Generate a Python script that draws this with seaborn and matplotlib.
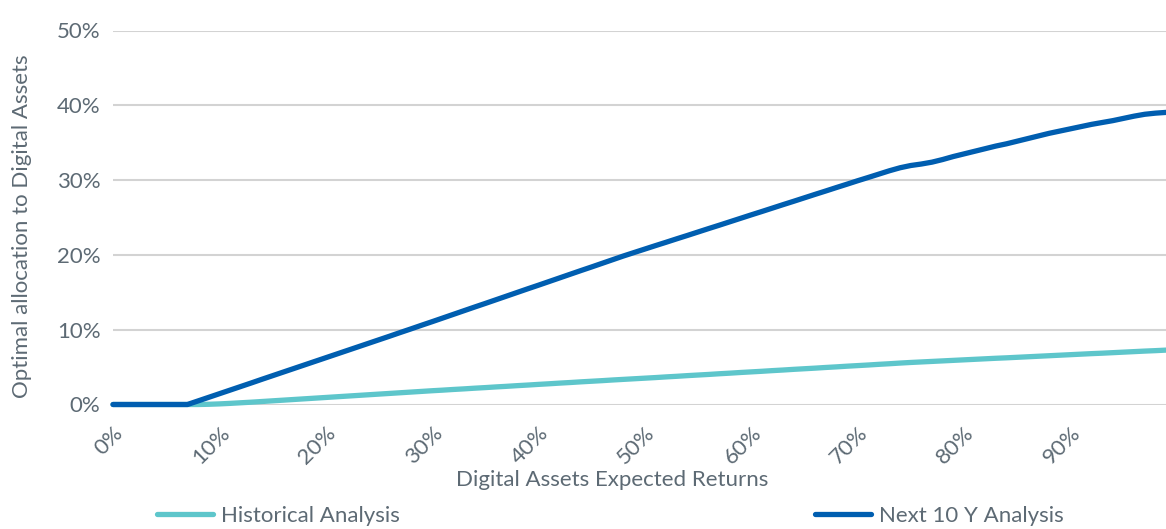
import matplotlib
matplotlib.use("Agg")
import matplotlib.pyplot as plt
from matplotlib.ticker import PercentFormatter, MultipleLocator
from matplotlib.lines import Line2D
import seaborn as sns
import pandas as pd

# Digital assets expected return (%), one point per percent
expected_returns = list(range(0, 100))

# Optimal allocation (%) from the historical analysis
historical = [
    0, 0, 0, 0, 0, 0, 0, 0, 0, 0.03,
    0.08, 0.15, 0.23, 0.31, 0.40, 0.49, 0.58, 0.67, 0.76, 0.85,
    0.94, 1.03, 1.12, 1.21, 1.30, 1.39, 1.48, 1.57, 1.66, 1.75,
    1.84, 1.92, 2.01, 2.09, 2.18, 2.26, 2.35, 2.43, 2.52, 2.60,
    2.69, 2.77, 2.86, 2.94, 3.03, 3.11, 3.19, 3.28, 3.36, 3.44,
    3.52, 3.60, 3.69, 3.77, 3.86, 3.94, 4.02, 4.11, 4.19, 4.28,
    4.36, 4.44, 4.53, 4.61, 4.70, 4.78, 4.86, 4.95, 5.03, 5.12,
    5.20, 5.28, 5.37, 5.45, 5.54, 5.62, 5.69, 5.76, 5.83, 5.90,
    5.97, 6.04, 6.11, 6.18, 6.24, 6.31, 6.38, 6.45, 6.52, 6.59,
    6.66, 6.73, 6.80, 6.86, 6.93, 7.00, 7.07, 7.14, 7.20, 7.27,
]

# Optimal allocation (%) from the next-10-year analysis
next_10y = [
    0, 0, 0, 0, 0, 0, 0, 0, 0.48, 0.96,
    1.44, 1.92, 2.40, 2.88, 3.37, 3.85, 4.33, 4.81, 5.29, 5.77,
    6.25, 6.73, 7.21, 7.69, 8.17, 8.65, 9.13, 9.62, 10.10, 10.59,
    11.07, 11.56, 12.05, 12.54, 13.03, 13.51, 14.00, 14.49, 14.98, 15.47,
    15.95, 16.44, 16.93, 17.42, 17.91, 18.39, 18.88, 19.37, 19.86, 20.32,
    20.78, 21.24, 21.69, 22.15, 22.60, 23.06, 23.52, 23.97, 24.43, 24.89,
    25.35, 25.80, 26.26, 26.72, 27.17, 27.63, 28.09, 28.54, 29.00, 29.45,
    29.91, 30.35, 30.80, 31.25, 31.65, 31.95, 32.15, 32.40, 32.75, 33.15,
    33.50, 33.85, 34.20, 34.55, 34.85, 35.20, 35.55, 35.90, 36.25, 36.55,
    36.85, 37.15, 37.45, 37.70, 37.95, 38.25, 38.55, 38.80, 38.95, 39.05,
]

series_names = ["Historical Analysis", "Next 10 Y Analysis"]
series_colors = ["#5EC6CB", "#005EB0"]

TEXT = "#5d6a74"
GRID = "#d3d3d3"
FS = 16

sns.set_style("white")
plt.rcParams["font.family"] = ["Lato", "DejaVu Sans"]

df = pd.DataFrame({
    "ret": expected_returns * 2,
    "alloc": historical + next_10y,
    "series": [series_names[0]] * len(historical) + [series_names[1]] * len(next_10y),
})

fig = plt.figure(figsize=(11.66, 5.29), dpi=100)
ax = fig.add_axes([113 / 1166, 1 - 404.5 / 529, 1 - 113 / 1166, (404.5 - 30.5) / 529])

sns.lineplot(
    data=df, x="ret", y="alloc", hue="series",
    palette=dict(zip(series_names, series_colors)),
    linewidth=3.8, ax=ax, legend=False, clip_on=False,
)
for line in ax.get_lines():
    line.set_solid_capstyle("round")
    line.set_solid_joinstyle("round")

ax.set_xlim(0, 99)
ax.set_ylim(0, 50)
ax.xaxis.set_major_locator(MultipleLocator(10))
ax.yaxis.set_major_locator(MultipleLocator(10))
ax.xaxis.set_major_formatter(PercentFormatter(xmax=100, decimals=0))
ax.yaxis.set_major_formatter(PercentFormatter(xmax=100, decimals=0))
ax.set_xticks(range(0, 100, 10))

ax.grid(axis="y", color=GRID, linewidth=1.5)
ax.grid(axis="x", visible=False)
ax.set_axisbelow(True)
for side in ["top", "right", "left", "bottom"]:
    ax.spines[side].set_visible(False)

ax.tick_params(axis="both", length=0, colors=TEXT, labelsize=FS)
ax.tick_params(axis="y", pad=9)
ax.tick_params(axis="x", pad=13)
for lab in ax.get_xticklabels():
    lab.set_rotation(45)
    lab.set_ha("right")
    lab.set_va("top")
    lab.set_rotation_mode("anchor")

ax.set_xlabel("Digital Assets Expected Returns", color=TEXT, fontsize=FS)
ax.set_ylabel("Optimal allocation to Digital Assets", color=TEXT, fontsize=FS)
ax.xaxis.set_label_coords((612 - 113) / 1053, -(470 - 404.5) / 374)
ax.yaxis.set_label_coords(-(113 - 32) / 1053, 0.5 - (226 - 217.5) / 374)

handles = [
    Line2D([], [], color=c, linewidth=3.8, solid_capstyle="round")
    for c in series_colors
]
fig.legend(
    handles, series_names, loc="center left",
    bbox_to_anchor=(157 / 1166, (529 - 516) / 529),
    ncol=2, frameon=False, fontsize=FS, labelcolor=TEXT,
    handlelength=2.52, handletextpad=0.35, columnspacing=18.7,
    borderpad=0, borderaxespad=0,
)

fig.savefig("out.png", dpi=100)
